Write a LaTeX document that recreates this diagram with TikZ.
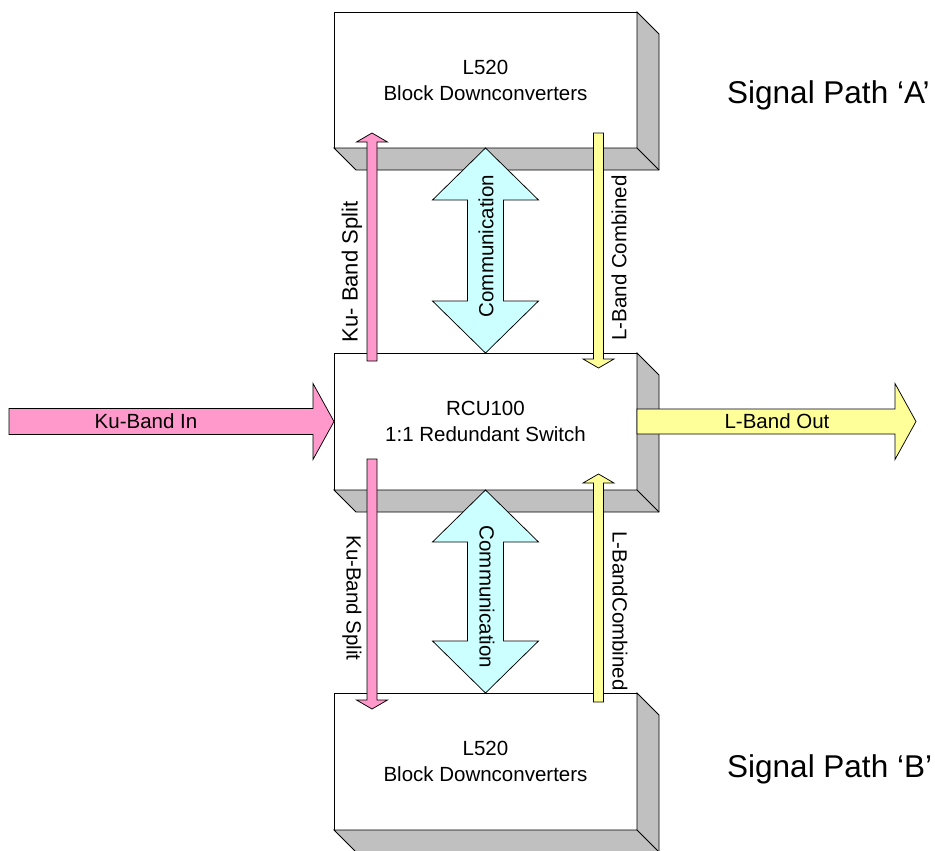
\documentclass[tikz,border=0pt]{standalone}
\usepackage{fontspec}
\setmainfont{Liberation Sans}
\usetikzlibrary{calc}

\definecolor{kupink}{HTML}{FF99CC}
\definecolor{lyellow}{HTML}{FFFF99}
\definecolor{commcyan}{HTML}{CCFFFF}
\definecolor{boxgray}{HTML}{C0C0C0}

% block arrow: style, tail, tip, shaft half width, head half width, head length
\newcommand{\blockarrow}[6]{%
  \coordinate (hb) at ($(#3)!#6!(#2)$);
  \draw[#1] ($(#2)!#4!90:(#3)$) -- ($(hb)!#4!90:(#3)$) -- ($(hb)!#5!90:(#3)$) -- (#3)
    -- ($(hb)!#5!-90:(#3)$) -- ($(hb)!#4!-90:(#3)$) -- ($(#2)!#4!-90:(#3)$) -- cycle;
}
% double block arrow: style, tip, tip, shaft half width, head half width, head length
\newcommand{\dblarrow}[6]{%
  \coordinate (ha) at ($(#3)!#6!(#2)$);
  \coordinate (hc) at ($(#2)!#6!(#3)$);
  \draw[#1] (#2) -- ($(hc)!#5!90:(#3)$) -- ($(hc)!#4!90:(#3)$) -- ($(ha)!#4!90:(#3)$)
    -- ($(ha)!#5!90:(#3)$) -- (#3) -- ($(ha)!#5!-90:(#3)$) -- ($(ha)!#4!-90:(#3)$)
    -- ($(hc)!#4!-90:(#3)$) -- ($(hc)!#5!-90:(#3)$) -- cycle;
}
% grey side and bottom of a box
\newcommand{\boxdepth}[1]{%
  \draw[depth] (#1.north east) -- ($(#1.north east)+(22,22)$) -- ($(#1.south east)+(22,22)$)
    -- ($(#1.south west)+(22,22)$) -- (#1.south west) -- (#1.south east) -- cycle;
  \draw[line width=0.75pt] (#1.south east) -- ++(22,22);
}

\begin{document}
\begin{tikzpicture}[x=1pt, y=-1pt,
    unit/.style={draw, line width=0.75pt, fill=white, minimum width=303pt, minimum height=137pt,
      inner sep=0pt, outer sep=0pt, align=center, font=\fontsize{20.5}{26}\selectfont},
    depth/.style={draw, line width=0.75pt, fill=boxgray, line join=miter},
    pinkarrow/.style={draw, line width=0.75pt, fill=kupink, line join=miter},
    yellowarrow/.style={draw, line width=0.75pt, fill=lyellow, line join=miter},
    commarrow/.style={draw, line width=0.75pt, fill=commcyan, line join=miter},
    lbl/.style={inner sep=0pt, font=\fontsize{20.5}{24}\selectfont}]
    \useasboundingbox (0,0) rectangle (935,851);

    \node[unit, minimum height=136pt] (L520A) at (485.5,80) {L520 \\ Block Downconverters};
    \node[unit] (RCU) at (485.5,421.5) {RCU100 \\ 1:1 Redundant Switch};
    \node[unit] (L520B) at (485.5,761.5) {L520 \\ Block Downconverters};
    \boxdepth{L520A}
    \boxdepth{RCU}
    \boxdepth{L520B}

    % signal in and out
    \coordinate (kuin) at (9,421.5);
    \coordinate (lout) at (916,421.5);
    \blockarrow{pinkarrow}{kuin}{RCU.west}{13pt}{38pt}{21pt}
    \blockarrow{yellowarrow}{RCU.east}{lout}{12.5pt}{38pt}{21pt}
    \node[lbl] (kuinlabel) at (146,421) {Ku-Band In};
    \node[lbl] (loutlabel) at (777,421) {L-Band Out};

    % path A
    \coordinate (kuA1) at (372,361);
    \coordinate (kuA2) at (372,133);
    \coordinate (lA1) at (598.5,133);
    \coordinate (lA2) at (598.5,368);
    \blockarrow{pinkarrow}{kuA1}{kuA2}{5pt}{15.5pt}{9pt}
    \blockarrow{yellowarrow}{lA1}{lA2}{5pt}{15.5pt}{9pt}
    \dblarrow{commarrow}{L520A.south}{RCU.north}{18pt}{53pt}{52pt}
    \node[lbl, rotate=90, font=\fontsize{22}{26}\selectfont] (kusplitA) at (352,272) {Ku- Band Split};
    \node[lbl, rotate=90] (commA) at (486,246) {Communication};
    \node[lbl, rotate=90] (lcombA) at (619,258) {L-Band Combined};

    % path B
    \coordinate (kuB1) at (372,459);
    \coordinate (kuB2) at (372,709);
    \coordinate (lB1) at (598.5,702);
    \coordinate (lB2) at (598.5,474);
    \blockarrow{pinkarrow}{kuB1}{kuB2}{5pt}{15.5pt}{9pt}
    \blockarrow{yellowarrow}{lB1}{lB2}{5pt}{15.5pt}{9pt}
    \dblarrow{commarrow}{RCU.south}{L520B.north}{18pt}{53pt}{52pt}
    \node[lbl, rotate=-90] (kusplitB) at (352,598) {Ku-Band Split};
    \node[lbl, rotate=-90] (commB) at (487,597) {Communication};
    \node[lbl, rotate=-90] (lcombB) at (620,611) {L-BandCombined};

    \node[anchor=base west, inner sep=0pt, font=\fontsize{31.5}{36}\selectfont] (pathA) at (727,103) {Signal Path ‘A’};
    \node[anchor=base west, inner sep=0pt, font=\fontsize{31.5}{36}\selectfont] (pathB) at (727,777) {Signal Path ‘B’};
\end{tikzpicture}
\end{document}
